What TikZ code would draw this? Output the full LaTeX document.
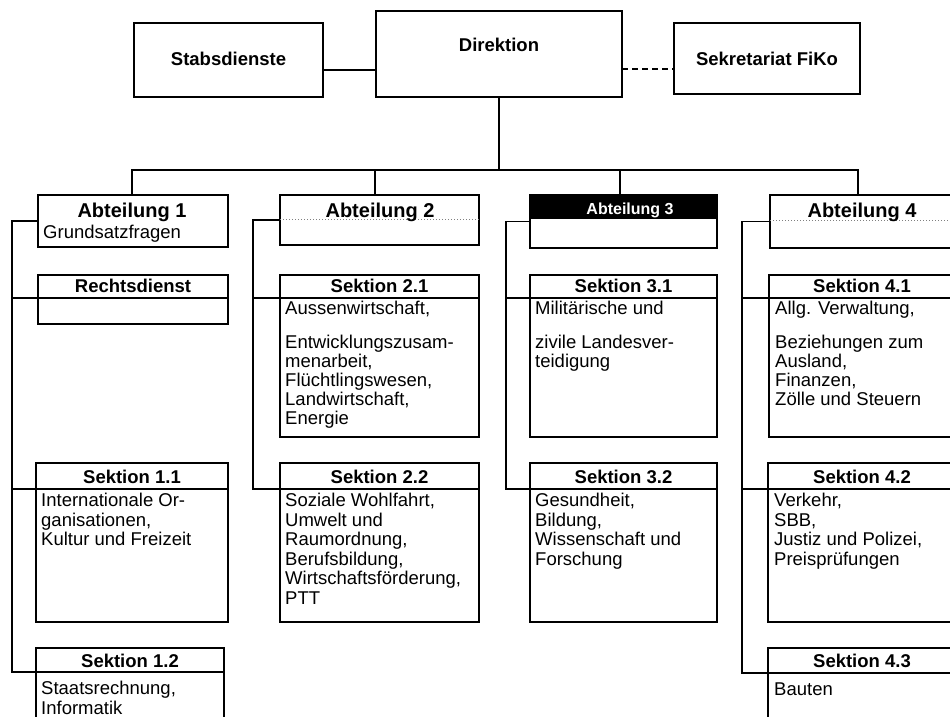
\documentclass[tikz,border=0pt]{standalone}
\usepackage{fontspec}
\setmainfont{Liberation Sans}
\usetikzlibrary{calc}
\tikzset{
  frame/.style={draw, line width=1.4pt, rectangle, inner sep=0pt, outer sep=0pt, anchor=north west},
  heavy/.style={line width=2.8pt},
  conn/.style={line width=1.4pt},
  ttl/.style={font=\fontsize{18.5}{20}\selectfont\bfseries, inner sep=0pt, anchor=base},
  abttl/.style={font=\fontsize{20}{22}\selectfont\bfseries, inner sep=0pt, anchor=base},
  toptxt/.style={font=\fontsize{18.5}{20}\selectfont\bfseries, inner sep=0pt, anchor=base},
  bodytxt/.style={font=\fontsize{18.5}{19}\selectfont, inner sep=0pt, anchor=north west, align=left, execute at begin node=\rule{0pt}{14pt}},
  bodytxtb/.style={bodytxt, font=\fontsize{18.5}{19.5}\selectfont},
  dotrule/.style={line width=0.9pt, gray, dash pattern=on 1pt off 2pt},
}
\newcommand\orgsec[8]{%
  \node[frame, minimum width=#4pt, minimum height=#5pt] (#1) at (#2,#3) {};
  \coordinate (#1s) at (#2,#6);
  \draw[conn] (#1s) -- (#1s -| #1.east);
  \draw[heavy] (#1.north east) -- (#1.south east) -- (#1.south west);
  \node[ttl] (#1t) at (#1.north |- 0,#7) {#8};
}
\begin{document}
\begin{tikzpicture}[x=1pt,y=-1pt]
\useasboundingbox (0,0) rectangle (950,717);
% ---- top row
\node[frame, minimum width=189pt, minimum height=74pt] (stab) at (134,23) {};
\draw[heavy] (stab.north east) -- (stab.south east) -- (stab.south west);
\node[toptxt] (stabt) at (228.5,66) {Stabsdienste};
\node[frame, minimum width=246pt, minimum height=86pt] (dir) at (376,11) {};
\draw[heavy] (dir.north east) -- (dir.south east) -- (dir.south west);
\node[toptxt] (dirt) at (499,52) {Direktion};
\node[frame, minimum width=186pt, minimum height=71pt] (sek) at (674,23) {};
\draw[heavy] (sek.north east) -- (sek.south east) -- (sek.south west);
\node[toptxt] (sekt) at (767,66) {Sekretariat FiKo};
\draw[conn] (stab.east |- 0,70) -- (dir.west |- 0,70);
\draw[conn, dash pattern=on 6pt off 4pt] (dir.east |- 0,69) -- (sek.west |- 0,69);
% ---- Abteilungen
\node[frame, minimum width=190pt, minimum height=52pt] (abt1) at (38,195) {};
\draw[heavy] (abt1.north east) -- (abt1.south east) -- (abt1.south west);
\node[abttl] (abt1t) at (132,217) {Abteilung 1};
\node[bodytxt] (abt1b) at (43,224) {Grundsatzfragen};
\node[frame, minimum width=199pt, minimum height=50pt] (abt2) at (280,195) {};
\draw[heavy] (abt2.north east) -- (abt2.south east) -- (abt2.south west);
\draw[dotrule] (abt2.west |- 0,219) -- (abt2.east |- 0,219);
\node[abttl] (abt2t) at (380,217) {Abteilung 2};
\node[frame, minimum width=187pt, minimum height=53pt] (abt3) at (530,195) {};
\fill (abt3.north west) rectangle ($(abt3.north east)+(0,24)$);
\draw[heavy] (abt3.north east) -- (abt3.south east) -- (abt3.south west);
\node[ttl, white, font=\fontsize{16}{17}\selectfont\bfseries] (abt3t) at (630,214) {Abteilung 3};
\node[frame, minimum width=184pt, minimum height=53pt] (abt4) at (770,195) {};
\draw[heavy] (abt4.north east) -- (abt4.south east) -- (abt4.south west);
\draw[dotrule] (abt4.west |- 0,220) -- (abt4.east |- 0,220);
\node[abttl] (abt4t) at (862,217) {Abteilung 4};
% ---- bus
\coordinate (bus) at (500,170);
\coordinate (d1) at (132,195);
\coordinate (d2) at (375,195);
\coordinate (d3) at (620,195);
\coordinate (d4) at (858,195);
\draw[conn] (dir.south) -- (dir.south |- bus);
\draw[conn] (d1) -- (d1 |- bus) -- (d4 |- bus) -- (d4);
\draw[conn] (d2) -- (d2 |- bus);
\draw[conn] (d3) -- (d3 |- bus);
% ---- sections row 1
\orgsec{rd}{38}{275}{190}{49}{298}{292}{Rechtsdienst}
\orgsec{s21}{280}{275}{199}{162}{298}{292}{Sektion 2.1}
\orgsec{s31}{530}{275}{187}{162}{298}{292}{Sektion 3.1}
\orgsec{s41}{769}{275}{186}{162}{298}{292}{Sektion 4.1}
\node[bodytxt] (s21b) at (285,301) {Aussenwirtschaft,\\[14.5pt]Entwicklungszusam-\\menarbeit,\\Flüchtlingswesen,\\Landwirtschaft,\\Energie};
\node[bodytxt] (s31b) at (535,301) {Militärische und\\[14.5pt]zivile Landesver-\\teidigung};
\node[bodytxt] (s41b) at (775,301) {Allg. Verwaltung,\\[14.5pt]Beziehungen zum\\Ausland,\\Finanzen,\\Zölle und Steuern};
% ---- sections row 2
\orgsec{s11}{36}{463}{192}{159}{489}{483}{Sektion 1.1}
\orgsec{s22}{280}{463}{199}{159}{489}{483}{Sektion 2.2}
\orgsec{s32}{530}{463}{187}{159}{489}{483}{Sektion 3.2}
\orgsec{s42}{768}{463}{188}{159}{489}{483}{Sektion 4.2}
\node[bodytxtb] (s11b) at (41,493) {Internationale Or-\\ganisationen,\\Kultur und Freizeit};
\node[bodytxtb] (s22b) at (285,493) {Soziale Wohlfahrt,\\Umwelt und\\Raumordnung,\\Berufsbildung,\\Wirtschaftsförderung,\\PTT};
\node[bodytxtb] (s32b) at (535,493) {Gesundheit,\\Bildung,\\Wissenschaft und\\Forschung};
\node[bodytxtb] (s42b) at (774,493) {Verkehr,\\SBB,\\Justiz und Polizei,\\Preisprüfungen};
% ---- sections row 3
\orgsec{s12}{36}{648}{188}{90}{672}{667}{Sektion 1.2}
\orgsec{s43}{768}{648}{188}{90}{673}{667}{Sektion 4.3}
\node[bodytxtb] (s12b) at (41,681) {Staatsrechnung,\\Informatik};
\node[bodytxtb] (s43b) at (774,681) {Bauten};
% ---- rails
\coordinate (r1) at (12,0);
\coordinate (r2) at (253,0);
\coordinate (r3) at (506,0);
\coordinate (r4) at (742,0);
\draw[conn] (abt1.west) -| (r1 |- s12s) -- (s12s);
\draw[conn] (r1 |- rds) -- (rds);
\draw[conn] (r1 |- s11s) -- (s11s);
\draw[conn] (abt2.west) -| (r2 |- s22s) -- (s22s);
\draw[conn] (r2 |- s21s) -- (s21s);
\draw[conn] (abt3.west) -| (r3 |- s32s) -- (s32s);
\draw[conn] (r3 |- s31s) -- (s31s);
\draw[conn] (abt4.west) -| (r4 |- s43s) -- (s43s);
\draw[conn] (r4 |- s41s) -- (s41s);
\draw[conn] (r4 |- s42s) -- (s42s);
\end{tikzpicture}
\end{document}
